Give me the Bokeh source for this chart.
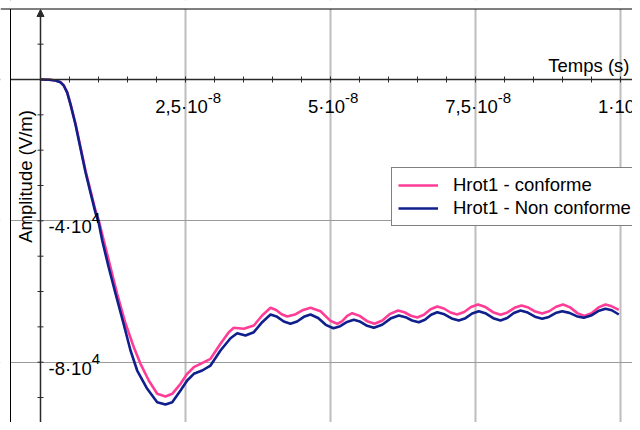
import math
from bokeh.plotting import figure
from bokeh.models import (Range1d, Span, Arrow, NormalHead, Label, Legend, LegendItem,
                          BoxAnnotation, Grid, FixedTicker)
from bokeh.core.properties import value
from bokeh.embed import file_html
from bokeh.resources import INLINE

# ---------------- data (time in ns, amplitude in V/m) ----------------
t_conf = [0, 1.5, 2.59, 3.45, 4.02, 4.60, 5.17, 6.03, 6.90, 7.76,
          8.62, 9.48, 10.05, 10.91, 12.07, 13.22, 14.66, 16.09, 17.24, 18.67,
          20.12, 21.55, 22.71, 24.14, 25.29, 26.43, 27.59, 29.31, 31.03, 32.47,
          33.33, 35.05, 36.78, 38.22, 39.66, 40.62, 41.57, 42.53, 44.0, 45.3,
          46.55, 48.28, 50.0, 51.16, 52.02, 52.88, 53.74, 55.02, 56.31, 57.59,
          58.94, 60.29, 61.64, 62.74, 63.85, 64.95, 66.10, 67.25, 68.40, 69.55,
          70.69, 71.84, 73.04, 74.23, 75.43, 76.72, 78.02, 79.31, 80.52, 81.72,
          82.93, 84.12, 85.31, 86.50, 87.70, 88.89, 90.09, 91.32, 92.56, 93.79,
          95.0, 96.2, 97.41, 98.5, 99.71]
amp_conf = [0, -50, -283, -763, -1700, -3594, -6876, -12452, -19159, -25753,
            -31413, -37073, -39900, -45560, -53116, -60644, -69050, -75757, -80455, -85183,
            -88947, -89711, -88947, -86117, -83287, -81419, -80456, -79040, -74795, -71512,
            -70267, -70550, -69618, -66788, -64608, -65224, -66455, -67071, -66400, -65200,
            -64608, -65570, -68300, -69137, -68387, -66887, -66137, -66887, -68387, -69137,
            -68196, -66314, -65373, -65868, -66859, -67354, -66576, -65019, -64240, -64806,
            -65939, -66505, -65798, -64383, -63675, -64397, -65840, -66562, -65911, -64609,
            -63958, -64524, -65656, -66222, -65585, -64312, -63675, -64489, -66116, -66930,
            -66116, -64489, -63675, -64200, -65175]

t_non = [0, 1.5, 2.59, 3.45, 4.02, 4.60, 5.17, 6.03, 6.90, 7.76,
         8.62, 9.48, 10.05, 10.64, 11.72, 12.93, 14.31, 15.52, 16.67, 18.40,
         20.12, 21.55, 22.71, 24.14, 25.29, 26.43, 27.88, 29.31, 31.03, 32.76,
         33.91, 35.34, 36.78, 38.22, 39.66, 40.81, 41.95, 43.10, 44.25, 45.40,
         46.55, 47.87, 49.18, 50.5, 51.67, 52.85, 54.02, 55.17, 56.32, 57.47,
         58.91, 60.34, 61.78, 62.93, 64.07, 65.22, 66.28, 67.34, 68.40, 69.64,
         70.88, 72.12, 73.27, 74.42, 75.57, 76.82, 78.06, 79.31, 80.46, 81.61,
         82.76, 84.01, 85.25, 86.50, 87.65, 88.80, 89.95, 91.19, 92.43, 93.67,
         94.92, 96.16, 97.41, 98.5, 99.71]
amp_non = [0, -50, -290, -790, -1760, -3700, -7050, -12750, -19550, -26250,
           -32050, -37750, -40650, -45560, -52920, -60560, -69050, -76690, -82350, -87530,
           -91320, -91970, -91320, -88010, -85180, -83290, -82350, -80940, -76690, -73210,
           -71800, -72450, -71510, -68680, -66500, -67160, -68480, -69140, -68480, -67160,
           -66500, -67475, -69425, -70400, -69800, -68600, -68000, -68568, -69703, -70270,
           -69400, -67660, -66790, -67263, -68208, -68680, -67973, -66558, -65850, -66438,
           -67613, -68200, -67543, -66228, -65570, -66228, -67543, -68200, -67493, -66078,
           -65370, -65958, -67133, -67720, -67183, -66108, -65570, -66038, -66973, -67440,
           -66803, -65528, -64890, -65300, -66500]

series_names = ["Hrot1 - conforme", "Hrot1 - Non conforme"]

x_major = [25, 50, 75, 100]
x_major_base = ["2,5·10", "5·10", "7,5·10", "1·10"]
x_major_exp = ["-8", "-8", "-8", "-7"]
x_minor = [5, 10, 15, 20, 25, 30, 35, 40, 45, 50, 55, 60, 65, 70, 75, 80, 85, 90, 95, 100]

y_major = [-40000, -80000]
y_major_base = ["-4·10", "-8·10"]
y_major_exp = ["4", "4"]
y_minor = [10000, -10000, -20000, -30000, -40000, -50000, -60000, -70000, -80000, -90000]

x_title = "Temps (s)"
y_title = "Amplitude (V/m)"

# ---------------- styling ----------------
FONT = "Liberation Sans"
FS = 18.5
FS_EXP = 15
PINK = "#ff3d96"
NAVY = "#0f1f8c"
AXIS = "#2a2a2a"

W, H = 632, 422
PX_PER_NS = 5.8
PX_PER_V = 141.35 / 40000.0
X0 = 40.0   # px of t=0 from left of canvas
Y0 = 79.0   # px of amplitude 0 from top of canvas

CW = {",": 0.278, "·": 0.333, "-": 0.333}
def tw(s, size):
    return sum(CW.get(c, 0.556) for c in s) * size

x_range = Range1d(-X0 / PX_PER_NS, (W - X0) / PX_PER_NS)
y_range = Range1d(-(H - Y0) / PX_PER_V, Y0 / PX_PER_V)

p = figure(width=W, height=H, x_range=x_range, y_range=y_range,
           output_backend="svg", toolbar_location=None,
           x_axis_location=None, y_axis_location=None,
           min_border=0, min_border_left=0, min_border_right=0,
           min_border_top=0, min_border_bottom=0)
p.outline_line_color = None
p.background_fill_color = "white"
p.border_fill_color = "white"
for g in p.grid:
    g.visible = False

p.add_layout(Grid(dimension=0, ticker=FixedTicker(ticks=x_major),
                  grid_line_color="#bdbdbd", grid_line_width=2))
p.add_layout(Grid(dimension=1, ticker=FixedTicker(ticks=y_major),
                  grid_line_color="#9a9a9a", grid_line_width=1))

# curves
r1 = p.line(t_conf, amp_conf, line_color=PINK, line_width=2.6)
r2 = p.line(t_non, amp_non, line_color=NAVY, line_width=2.6)

# x axis line
p.add_layout(Span(location=0, dimension="width", line_color=AXIS, line_width=1.5))

# ticks
p.scatter(x=x_minor, y=[0] * len(x_minor), marker="dash", size=6, angle=math.pi / 2,
          line_color=AXIS, line_width=1)
p.scatter(x=[0] * len(y_minor), y=y_minor, marker="dash", size=6, angle=0,
          line_color=AXIS, line_width=1)

# x tick labels
p.text(x=x_major, y=[0] * len(x_major), text=x_major_base,
       x_offset=-4, y_offset=27, text_align="center", text_baseline="alphabetic",
       text_font=value(FONT), text_font_size=f"{FS}px", text_color="black")
p.text(x=x_major, y=[0] * len(x_major), text=x_major_exp,
       x_offset=[-4 + tw(s, FS) / 2 for s in x_major_base], y_offset=18,
       text_align="left", text_baseline="alphabetic",
       text_font=value(FONT), text_font_size=f"{FS_EXP}px", text_color="black")

# y tick labels
p.text(x=[0] * len(y_major), y=y_major, text=y_major_base,
       x_offset=8, y_offset=6, text_align="left", text_baseline="alphabetic",
       text_font=value(FONT), text_font_size=f"{FS}px", text_color="black")
p.text(x=[0] * len(y_major), y=y_major, text=y_major_exp,
       x_offset=[8 + tw(s, FS) for s in y_major_base], y_offset=-3,
       text_align="left", text_baseline="alphabetic",
       text_font=value(FONT), text_font_size=f"{FS_EXP}px", text_color="black")

# titles
p.add_layout(Label(x=629, y=H - 65, x_units="screen", y_units="screen",
                   text=x_title, text_align="right", text_baseline="middle",
                   text_font=FONT, text_font_size=f"{FS}px", text_color="black"))
p.add_layout(Label(x=24.5, y=H - 176, x_units="screen", y_units="screen",
                   text=y_title, angle=math.pi / 2, text_align="center",
                   text_baseline="middle",
                   text_font=FONT, text_font_size=f"{FS}px", text_color="black"))

# frame (left and top border) with white margins outside it
left_border = x_range.start + 10.0 / PX_PER_NS
top_border = y_range.end - 8.5 / PX_PER_V
p.add_layout(BoxAnnotation(right=left_border, fill_color="white", fill_alpha=1.0,
                           line_color=None))
p.add_layout(Span(location=left_border, dimension="height", line_color="black", line_width=1))
p.add_layout(BoxAnnotation(bottom=top_border, fill_color="white", fill_alpha=1.0,
                           line_color=None))
p.add_layout(Span(location=top_border, dimension="width", line_color="black", line_width=1))

# y axis with arrow
p.add_layout(Arrow(end=NormalHead(size=7, fill_color=AXIS, line_color=AXIS, line_width=1),
                   x_start=0, y_start=y_range.start, x_end=0,
                   y_end=y_range.end - 9.0 / PX_PER_V,
                   line_color=AXIS, line_width=1.5))

# legend
legend = Legend(items=[LegendItem(label=series_names[0], renderers=[r1]),
                       LegendItem(label=series_names[1], renderers=[r2])],
                location=(391, H - 226), orientation="vertical",
                label_text_font=FONT, label_text_font_size=f"{FS}px",
                label_text_color="black",
                glyph_width=40, glyph_height=18, label_height=18, spacing=1,
                padding=6, margin=0, label_standoff=15,
                border_line_color="black", border_line_width=1,
                background_fill_color="white", background_fill_alpha=1.0)
p.add_layout(legend)

open("out.html", "w").write(file_html(p, INLINE))
